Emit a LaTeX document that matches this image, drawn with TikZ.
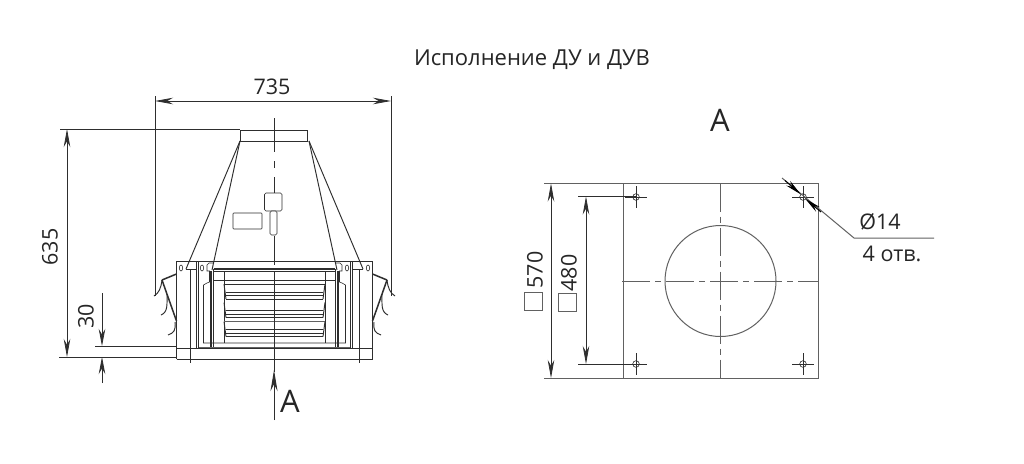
\documentclass[tikz,border=0pt]{standalone}
\usepackage{fontspec}
\setmainfont{Open Sans}
\usetikzlibrary{arrows.meta}
\definecolor{ink}{gray}{0.18}
\definecolor{pl}{gray}{0.38}
\tikzset{
  thin line/.style={draw=ink,line width=0.6pt},
  med line/.style={draw=ink,line width=0.95pt},
  thick line/.style={draw=ink,line width=1.5pt},
  gray line/.style={draw=pl,line width=1pt},
  dimline/.style={draw=ink,line width=0.75pt,{Stealth[length=18pt,width=6.5pt]}-{Stealth[length=18pt,width=6.5pt]}},
  oneway/.style={draw=ink,line width=0.75pt,-{Stealth[length=17pt,width=6.5pt]}},
  label/.style={text=black!85,inner sep=0pt,font=\fontsize{21.5}{24}\selectfont},
  biglabel/.style={text=black!85,inner sep=0pt,font=\fontsize{31}{34}\selectfont},
  axisline/.style={draw=pl,line width=0.8pt,dash pattern=on 28pt off 5pt on 6pt off 5pt},
  sqmark/.style={draw=pl,line width=0.9pt,minimum size=18pt,inner sep=0pt},
}
\newcommand{\halfunit}{%
  % cone
  \draw[med line] (240,141) -- (186,269);
  \draw[med line] (240,141) -- (212,270);
  % housing frame
  \draw[med line] (176.5,261) -- (274.5,261);
  \draw[thick line] (176.5,261) -- (176.5,359);
  \draw[thin line] (190,269) -- (190,363);
  \draw[thin line] (185.6,269) -- (197,269);
  \draw[thick line] (196.5,261) -- (196.5,348);
  \draw[thin line] (198.5,261) -- (198.5,348);
  \draw[thin line] (181,268) ellipse (1.7 and 3);
  \draw[thin line] (202,268) ellipse (1.7 and 3);
  % inner bracket
  \draw[thin line] (213.6,263) -- (209,263) -- (207,265) -- (207,271) -- (209.5,271) -- (209.5,282) -- (207,283) -- (203.5,285) -- (203.5,343) -- (274.5,343);
  \draw[thick line] (211,271) -- (211,348);
  \draw[thick line] (213.6,269) -- (213.6,347);
  \draw[gray line] (199,347) -- (274.5,347);
  \draw[thick line] (213.6,269) -- (274.5,269);
  \draw[thin line] (213.6,271.5) -- (274.5,271.5);
  \draw[thick line] (213.6,280.5) -- (274.5,280.5);
  \draw[thin line] (223.8,271.5) -- (223.8,343);
  \draw[thin line] (223.8,284) -- (274.5,284);
  % louvres
  \foreach \t in {0,18.5,37.5}{
    \draw[med line] (224,{284+\t}) -- (226,{299+\t});
    \draw[med line] (226,{292+\t}) -- (274.5,{292+\t});
    \draw[thin line] (226,{295.5+\t}) -- (274.5,{295.5+\t});
    \draw[med line] (226,{299+\t}) -- (274.5,{299+\t});
  }
  \draw[gray line] (224,321) -- (274.5,321);
  % side flap
  \draw[thick line] (162,280) -- (176.5,274);
  \draw[thick line] (162,280) -- (176.5,321);
  \draw[med line] (162,280) .. controls (161,288) and (159,293) .. (154,296);
  \draw[med line] (167,294) .. controls (167,305) and (168,312) .. (161,315);
  \draw[med line] (175,322) .. controls (176,330) and (174,333) .. (168,335);
}
\begin{document}
\begin{tikzpicture}[x=1pt,y=-1pt]
\useasboundingbox[fill=white] (0,0) rectangle (1024,463);

\node[label,font=\fontsize{22}{24}\selectfont] (title) at (532,60) {Исполнение ДУ и ДУВ};

% --- elevation ---
\halfunit
\begin{scope}[x=-1pt,xshift=549pt]
\halfunit
\end{scope}
\draw[med line] (240,130) rectangle (307,141);
\draw[med line] (176.5,359) -- (373,359);
\draw[med line] (176.5,348) -- (373,348);
% centre line
\draw[thin line] (274,118) -- (274,152);
\draw[thin line] (274,161) -- (274,168);
\draw[thin line] (274,177) -- (274,193);
\draw[thin line] (274,236) -- (274,265);
\draw[thin line] (274,272) -- (274,372);
% plate, box, pill
\draw[thin line,rounded corners=0.8pt] (233,213) rectangle (262,229);
\draw[thin line,rounded corners=1.5pt] (264.5,193) rectangle (282,211);
\draw[fill=white,thin line,rounded corners=1.5pt] (270,211) rectangle (277,235);
% dimension extension lines
\coordinate (e735l) at (155,96);
\coordinate (e735lb) at (155,296);
\coordinate (e735r) at (391,96);
\coordinate (e735rb) at (391,296);
\coordinate (d735l) at (155,101);
\coordinate (d735r) at (391,101);
\draw[thin line] (e735l) -- (e735lb);
\draw[thin line] (e735r) -- (e735rb);
\draw[dimline] (d735l) -- (d735r);
\node[label] (t735) at (272,87) {735};

\coordinate (e635t) at (60,129);
\coordinate (e635te) at (240,129);
\coordinate (e635b) at (59,357);
\coordinate (e635be) at (177,357);
\coordinate (d635t) at (67,129);
\coordinate (d635b) at (67,357);
\draw[thin line] (e635t) -- (e635te);
\draw[thin line] (e635b) -- (e635be);
\draw[dimline] (d635t) -- (d635b);
\node[label,rotate=90] (t635) at (50,247) {635};

\coordinate (e30t) at (95,346);
\coordinate (e30te) at (177,346);
\coordinate (a30a) at (102,293);
\coordinate (a30b) at (102,346);
\coordinate (a30c) at (102,383);
\coordinate (a30d) at (102,357);
\draw[thin line] (e30t) -- (e30te);
\draw[oneway] (a30a) -- (a30b);
\draw[oneway] (a30c) -- (a30d);
\node[label,rotate=90] (t30) at (86,316) {30};

\coordinate (arA) at (274,420);
\coordinate (arB) at (274,370);
\draw[draw=ink,line width=0.9pt,-{Stealth[length=21pt,width=7pt]}] (arA) -- (arB);
\node[biglabel] (aL) at (290,401) {А};

% --- plan view ---
\node[biglabel] (aR) at (720,120) {А};
\draw[gray line] (623,183.5) rectangle (818,378);
\draw[gray line] (720.5,281) circle (55.5);
\draw[axisline] (622,281) -- (819,281);
\draw[axisline] (720.5,183.5) -- (720.5,378);
\foreach \px/\py in {636/197,803/197,636/364,803/364}{
  \draw[thin line] (\px,\py) circle (3.3);
  \draw[thin line] (\px-11,\py) -- (\px+11,\py);
  \draw[thin line] (\px,\py-11) -- (\px,\py+11);
}
\coordinate (e570t) at (544,183.5);
\coordinate (e570te) at (623,183.5);
\coordinate (e570b) at (544,378);
\coordinate (e570be) at (623,378);
\coordinate (e480t) at (578,196.5);
\coordinate (e480te) at (636,196.5);
\coordinate (e480b) at (578,364);
\coordinate (e480be) at (636,364);
\draw[gray line] (e570t) -- (e570te);
\draw[gray line] (e570b) -- (e570be);
\draw[thin line] (e480t) -- (e480te);
\draw[thin line] (e480b) -- (e480be);
\draw[dimline] (551,183.5) -- (551,378);
\draw[dimline] (586,196.5) -- (586,364);
\node[label,rotate=90] (t570) at (535,270) {570};
\node[label,rotate=90] (t480) at (569,273) {480};
\node[sqmark] (s570) at (533,301) {};
\node[sqmark] (s480) at (567.5,302) {};
% leader
\coordinate (lA) at (782,178);
\coordinate (lB) at (803,196.5);
\coordinate (lC) at (854,238);
\coordinate (lD) at (934,238);
\draw[gray line] (lA) -- (lC) -- (lD);
\draw[draw=black,line width=1pt,-{Stealth[length=17pt,width=6pt]}] (785,180.5) -- (801,194.5);
\draw[draw=black,line width=1pt,-{Stealth[length=17pt,width=6pt]}] (821,212) -- (805,198.5);
\node[label] (d14) at (880,222) {Ø14};
\node[label] (h4) at (892,254) {4 отв.};
\end{tikzpicture}
\end{document}
